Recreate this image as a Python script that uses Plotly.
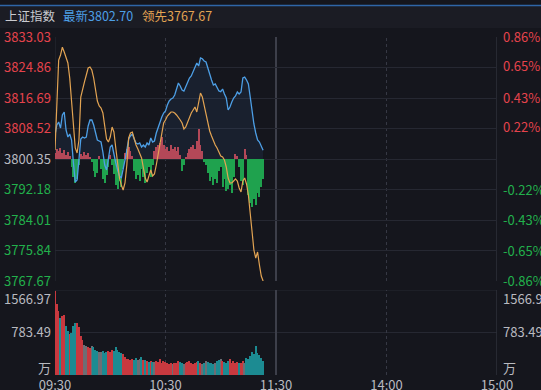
import plotly.graph_objects as go

# ---------------- data ----------------
PREV_CLOSE = 3800.35
INDEX_NAME = "上证指数"
price_ticks = [3833.03, 3824.86, 3816.69, 3808.52, 3800.35, 3792.18, 3784.01, 3775.84, 3767.67]
pct_ticks = [0.86, 0.65, 0.43, 0.22, 0.0, -0.22, -0.43, -0.65, -0.86]
time_ticks = [0, 60, 120, 180, 240]
time_labels = ["09:30", "10:30", "11:30", "14:00", "15:00"]
vol_max = 1566.97
vol_mid = 783.49
vol_unit = "万"

latest = [
    3806.78, 3809.46, 3810.26, 3808.65, 3812.14, 3812.94, 3808.12, 3806.24, 3807.05, 3805.44,
    3799.28, 3794.19, 3794.72, 3800.08, 3805.71, 3806.24, 3805.98, 3806.24, 3809.19, 3810.80,
    3810.80, 3809.46, 3807.05, 3805.44, 3805.17, 3804.90, 3802.23, 3798.74, 3797.40, 3800.08,
    3803.56, 3804.10, 3801.42, 3799.28, 3797.40, 3795.80, 3795.26, 3797.40, 3800.08, 3802.76,
    3805.71, 3806.51, 3807.05, 3805.71, 3804.64, 3804.37, 3804.64, 3803.56, 3804.10, 3803.56,
    3804.64, 3804.10, 3805.98, 3804.90, 3805.17, 3807.32, 3808.92, 3810.53, 3811.60, 3812.67,
    3813.21, 3814.82, 3815.89, 3816.42, 3816.69, 3817.50, 3818.84, 3820.71, 3819.91, 3818.84,
    3818.57, 3819.91, 3821.25, 3822.05, 3822.59, 3823.66, 3824.73, 3826.07, 3825.26, 3827.41,
    3827.20, 3826.60, 3826.34, 3825.00, 3823.12, 3821.51, 3820.17, 3820.44, 3819.37, 3818.57,
    3818.40, 3819.10, 3817.76, 3816.69, 3813.48, 3814.28, 3815.62, 3816.69, 3817.23, 3818.30,
    3817.76, 3818.30, 3822.05, 3822.30, 3821.51, 3820.44, 3816.96, 3812.94, 3809.73, 3807.32,
    3805.44, 3804.90, 3803.56, 3802.70,
]

leading = [
    3802.76, 3817.50, 3826.87, 3828.21, 3830.30, 3829.02, 3827.41, 3826.07, 3822.05, 3814.82,
    3808.65, 3803.30, 3801.96, 3805.44, 3816.96, 3819.37, 3820.98, 3822.85, 3824.73, 3825.00,
    3824.19, 3822.05, 3819.10, 3815.89, 3814.55, 3814.01, 3812.67, 3808.65, 3805.71, 3804.90,
    3806.24, 3808.92, 3807.58, 3803.30, 3798.74, 3795.26, 3793.38, 3792.05, 3793.92, 3798.74,
    3805.98, 3807.32, 3807.58, 3805.71, 3804.10, 3803.03, 3801.96, 3800.62, 3797.94, 3795.26,
    3794.19, 3796.06, 3797.40, 3795.80, 3796.33, 3798.74, 3801.42, 3804.64, 3807.85, 3809.99,
    3810.80, 3811.87, 3812.41, 3812.94, 3812.94, 3812.67, 3812.14, 3811.60, 3810.80, 3809.99,
    3808.39, 3808.92, 3810.26, 3811.60, 3812.67, 3813.48, 3814.28, 3812.94, 3815.08, 3818.03,
    3816.96, 3814.55, 3811.87, 3809.46, 3807.85, 3806.51, 3805.17, 3804.10, 3803.30, 3801.96,
    3801.15, 3800.89, 3800.08, 3798.21, 3795.26, 3793.92, 3793.92, 3794.46, 3795.01, 3794.46,
    3792.58, 3791.51, 3794.46, 3795.26, 3793.65, 3790.71, 3785.88, 3779.99, 3775.97, 3773.83,
    3775.44, 3771.95, 3769.01, 3767.67,
]

# buy/sell strength bars, points above/below previous close
strength = [
    1.61, 2.68, 2.14, 2.95, 1.61, 2.41, 1.07, 1.88, 0.80, -2.14,
    -4.82, -6.43, -5.36, -1.61, 1.34, 0.80, 1.88, 1.07, 1.61, 0.54,
    -0.80, -3.21, -4.82, -3.75, 0.80, -2.68, -5.36, -6.43, -4.29, -2.14,
    1.07, -1.61, -4.02, -6.97, -8.04, -5.89, -7.50, -2.68, 1.61, 2.68,
    3.21, 2.14, 0.80, -3.21, -5.36, -4.29, -5.89, -2.68, -4.82, -6.43,
    -3.75, -2.14, -4.82, -1.61, 2.14, 3.21, 3.75, 4.29, 5.89, 3.75,
    2.68, 3.21, 2.14, 3.75, 2.68, 3.21, 2.14, 3.21, 1.07, -3.21,
    -1.61, 0.54, 1.61, 2.68, 3.21, 3.75, 2.68, 4.82, 8.04, 3.75,
    2.14, -0.80, -1.61, -3.75, -5.89, -4.82, -6.97, -5.36, -6.43, -3.21,
    -2.14, -7.50, -5.36, -8.57, -8.04, -6.97, -9.11, -4.82, 1.34, 0.80,
    -2.14, -5.89, -6.97, 2.68, 1.07, -9.64, -11.79, -12.86, -10.72, -12.32,
    -9.11, -10.18, -7.50, -5.36,
]

volume = [
    1545, 1300, 1180, 1050, 1080, 1100, 900, 820, 760, 770,
    900, 960, 950, 880, 720, 640, 560, 540, 520, 500,
    540, 510, 470, 440, 420, 430, 440, 400, 420, 450,
    430, 470, 440, 520, 470, 430, 410, 390, 330, 300,
    290, 280, 290, 270, 320, 270, 290, 340, 280, 270,
    260, 240, 250, 240, 245, 250, 240, 290, 230, 260,
    240, 230, 210, 220, 200, 230, 220, 250, 240, 230,
    210, 220, 240, 260, 230, 210, 220, 240, 250, 230,
    210, 220, 260, 240, 230, 220, 210, 230, 250, 280,
    300, 260, 240, 230, 250, 300, 220, 250, 230, 240,
    220, 230, 260, 230, 310, 300, 350, 420, 380, 540,
    400, 360, 320, 250,
]

# ---------------- styling ----------------
W, H = 541, 390
BG = "#15161d"
GRID = "#262832"
BLUE = "#4d9fe6"
ORANGE = "#e3a453"
RED_TXT = "#e5434c"
GREEN_TXT = "#22b14c"
GRAY_TXT = "#b9bac0"
FONT = "Noto Sans CJK SC"

PL, PR = 55, 497          # plot left/right in px
MT, MB = 37, 281          # main panel top/bottom
VT, VB = 290, 375         # volume panel top/bottom


def fx(px):
    return px / W


def fy(py):
    return 1 - py / H


minutes = list(range(len(latest)))

fig = go.Figure()

# baseline for area fill
fig.add_trace(go.Scatter(x=minutes, y=[PREV_CLOSE] * len(minutes), mode="lines",
                         line=dict(width=0, color="rgba(0,0,0,0)"), hoverinfo="skip",
                         showlegend=False, xaxis="x", yaxis="y"))
# strength bars
fig.add_trace(go.Bar(x=minutes, y=strength, base=PREV_CLOSE, width=0.62,
                     marker=dict(color=["#c0424c" if s >= 0 else "#1fa24e" for s in strength],
                                 line=dict(width=0)),
                     showlegend=False, xaxis="x", yaxis="y"))
# latest index line with soft fill
fig.add_trace(go.Scatter(x=minutes, y=latest, mode="lines", fill="tonexty",
                         fillcolor="rgba(70,130,200,0.10)",
                         line=dict(color=BLUE, width=1.3), showlegend=False,
                         xaxis="x", yaxis="y"))
# leading index line
fig.add_trace(go.Scatter(x=minutes, y=leading, mode="lines",
                         line=dict(color=ORANGE, width=1.2), showlegend=False,
                         xaxis="x", yaxis="y"))
# percent axis carrier (invisible)
fig.add_trace(go.Scatter(x=minutes, y=[(v / PREV_CLOSE - 1) * 100 for v in latest],
                         mode="lines", line=dict(width=0, color="rgba(0,0,0,0)"),
                         hoverinfo="skip", showlegend=False, xaxis="x", yaxis="y2"))

# volume colours from minute-to-minute change of the index
vcol = []
for i, v in enumerate(latest):
    d = v - (latest[i - 1] if i > 0 else PREV_CLOSE)
    if abs(d) < 0.3:
        vcol.append("#6d6e74")
    elif d > 0:
        vcol.append("#c8393f")
    else:
        vcol.append("#1c8b92")
fig.add_trace(go.Bar(x=minutes, y=volume, width=0.78,
                     marker=dict(color=vcol, line=dict(width=0)),
                     showlegend=False, xaxis="x2", yaxis="y3"))
fig.add_trace(go.Bar(x=minutes, y=volume, width=0.78, opacity=0,
                     marker=dict(color="rgba(0,0,0,0)"), hoverinfo="skip",
                     showlegend=False, xaxis="x2", yaxis="y4"))


def price_color(v):
    if v > PREV_CLOSE + 1e-6:
        return RED_TXT
    if v < PREV_CLOSE - 1e-6:
        return GREEN_TXT
    return GRAY_TXT


price_text = [f"<span style='color:{price_color(v)}'>{v:.2f}</span>" for v in price_ticks]
pct_text = [("" if p == 0 else
             f"<span style='color:{RED_TXT if p > 0 else GREEN_TXT}'>{p:.2f}%</span>")
            for p in pct_ticks]

# volume label positions (labels sit inside the panel like the reference)
vol_px = vol_max / (VB - VT)
vol_label_vals = [vol_max - 9 * vol_px, vol_mid, 7 * vol_px]
vol_label_text = [f"{vol_max:.2f}", f"{vol_mid:.2f}", vol_unit]

tickfont = dict(family=FONT, size=13, color=GRAY_TXT)

fig.update_layout(
    width=W, height=H, autosize=False,
    margin=dict(l=0, r=0, t=0, b=0, pad=0),
    paper_bgcolor=BG, plot_bgcolor=BG,
    bargap=0, barmode="overlay",
    font=dict(family=FONT, color=GRAY_TXT),
    xaxis=dict(domain=[fx(PL), fx(PR)], range=[0, 240], anchor="y", automargin=False,
               showgrid=False, zeroline=False, showticklabels=False, fixedrange=True),
    xaxis2=dict(domain=[fx(PL), fx(PR)], range=[0, 240], anchor="y3", automargin=False,
                tickvals=time_ticks, ticktext=time_labels, tickfont=tickfont,
                showgrid=False, zeroline=False, ticks="", ticklabelstandoff=1),
    yaxis=dict(domain=[fy(MB), fy(MT)], range=[price_ticks[-1], price_ticks[0]],
               tickvals=price_ticks, ticktext=price_text, tickfont=tickfont,
               showgrid=True, gridcolor=GRID, gridwidth=1, zeroline=False,
               ticks="", ticklabelstandoff=3, anchor="x", automargin=False),
    yaxis2=dict(domain=[fy(MB), fy(MT)], range=[pct_ticks[-1], pct_ticks[0]],
                overlaying="y", side="right", anchor="x", automargin=False,
                tickvals=pct_ticks, ticktext=pct_text, tickfont=tickfont,
                showgrid=False, zeroline=False, ticks="", ticklabelstandoff=5),
    yaxis3=dict(domain=[fy(VB), fy(VT)], range=[0, vol_max], anchor="x2", automargin=False,
                tickvals=vol_label_vals, ticktext=vol_label_text, tickfont=tickfont,
                showgrid=False, zeroline=False, ticks="", ticklabelstandoff=3),
    yaxis4=dict(domain=[fy(VB), fy(VT)], range=[0, vol_max], anchor="x2", automargin=False,
                overlaying="y3", side="right",
                tickvals=vol_label_vals, ticktext=vol_label_text, tickfont=tickfont,
                showgrid=False, zeroline=False, ticks="", ticklabelstandoff=5),
)

shapes = []
# header band
shapes.append(dict(type="rect", xref="paper", yref="paper", x0=0, x1=1,
                   y0=fy(28), y1=fy(6), fillcolor="#1b1c24", line=dict(width=0), layer="below"))
shapes.append(dict(type="line", xref="paper", yref="paper", x0=0, x1=1,
                   y0=fy(5.5), y1=fy(5.5), line=dict(color="#2f66a8", width=1.5)))
# volume horizontal gridlines
for v in [vol_max, vol_mid]:
    shapes.append(dict(type="line", xref="paper", yref="y3", x0=fx(PL), x1=fx(PR),
                       y0=v, y1=v, line=dict(color=GRID, width=1), layer="below"))
# vertical lines in both panels
for t, col, wd, dash in [(0, "#2a2c36", 1, "solid"), (60, "#363844", 1, "dot"),
                         (120, "#3d3f4a", 2, "solid"), (180, "#363844", 1, "dot"),
                         (240, "#2e303a", 1.5, "solid")]:
    for top, bot in [(MT, MB), (VT, VB)]:
        shapes.append(dict(type="line", xref="x", yref="paper", x0=t, x1=t,
                           y0=fy(bot), y1=fy(top), line=dict(color=col, width=wd, dash=dash),
                           layer="below"))
fig.update_layout(shapes=shapes)

# header texts
hdr_font = 12.5
fig.add_annotation(x=fx(3), y=fy(16), xref="paper", yref="paper", xanchor="left",
                   yanchor="middle", text=INDEX_NAME, showarrow=False,
                   font=dict(family=FONT, size=hdr_font, color="#c9cacf"))
fig.add_annotation(x=fx(61), y=fy(16), xref="paper", yref="paper", xanchor="left",
                   yanchor="middle", text=f"最新{latest[-1]:.2f}", showarrow=False,
                   font=dict(family=FONT, size=hdr_font, color=BLUE))
fig.add_annotation(x=fx(140), y=fy(16), xref="paper", yref="paper", xanchor="left",
                   yanchor="middle", text=f"领先{leading[-1]:.2f}", showarrow=False,
                   font=dict(family=FONT, size=hdr_font, color=ORANGE))

fig.write_html("out.html", config={"displayModeBar": False},
               post_script="document.body.style.margin='0';document.body.style.background='%s';" % BG)
